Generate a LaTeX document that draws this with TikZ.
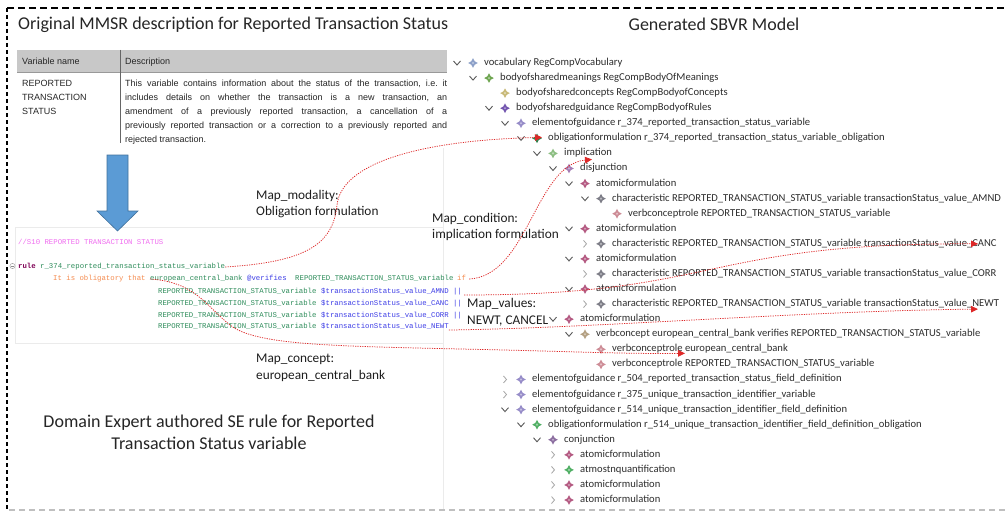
\documentclass[tikz,border=0pt]{standalone}
\usepackage{fontspec}
\setmainfont{Carlito}
\newfontfamily\arialf{Liberation Sans}
\newfontfamily\monof{Liberation Mono}
\usetikzlibrary{arrows.meta,calc}
\definecolor{mapred}{RGB}{222,40,40}
\definecolor{treec}{RGB}{45,45,45}
\definecolor{labelc}{RGB}{30,30,30}
\definecolor{hdr}{RGB}{200,200,200}
\definecolor{blueA}{RGB}{91,155,213}
\definecolor{blueB}{RGB}{65,113,156}
\definecolor{cmtc}{RGB}{240,110,240}
\definecolor{kwc}{RGB}{127,0,85}
\definecolor{idc}{RGB}{45,140,90}
\definecolor{orc}{RGB}{245,140,80}
\definecolor{blc}{RGB}{60,60,230}
\definecolor{ivoc}{RGB}{140,160,200}
\definecolor{imean}{RGB}{110,165,80}
\definecolor{iconc}{RGB}{200,185,120}
\definecolor{iguid}{RGB}{115,85,175}
\definecolor{ielem}{RGB}{150,140,200}
\definecolor{iobl}{RGB}{50,130,80}
\definecolor{iimp}{RGB}{140,190,130}
\definecolor{idis}{RGB}{165,125,180}
\definecolor{iatom}{RGB}{180,90,130}
\definecolor{ichar}{RGB}{125,125,135}
\definecolor{irole}{RGB}{205,140,150}
\definecolor{ivc}{RGB}{180,160,130}
\definecolor{iatm}{RGB}{80,175,100}
\definecolor{iconj}{RGB}{140,110,160}
\tikzset{
  treetext/.style={anchor=west, inner sep=0pt, text height=7pt, text depth=2pt, text=treec, font=\fontsize{10.6}{12}\selectfont},
  codetxt/.style={anchor=west, inner sep=0pt, text height=5pt, text depth=1.5pt, font=\monof\fontsize{7.33}{9}\selectfont},
  tabtxt/.style={anchor=west, inner sep=0pt, text height=6.5pt, text depth=2pt, text=black!85, font=\arialf\fontsize{9}{11}\selectfont},
  maplabel/.style={anchor=west, inner sep=0pt, align=left, text=labelc, font=\fontsize{13.3}{16.5}\selectfont},
  titletxt/.style={inner sep=0pt, text=black!85, font=\fontsize{18}{21.5}\selectfont},
  mapline/.style={draw=mapred, line width=0.75pt, dash pattern=on 1.2pt off 1.2pt, -{Triangle[length=7pt,width=6.5pt,fill=mapred]}},
  chevd/.style={draw=black!65, line width=0.9pt},
  chevr/.style={draw=black!35, line width=0.8pt},
}
\newcommand\trow[6]{%
  \pgfmathsetmacro\tyv{63+15.07*#2}%
  \pgfmathsetmacro\txv{484+16*#3}%
  \node[treetext] (#1) at (\txv,\tyv) {#6};
  \fill[#5] (\txv-11,\tyv-4.8) -- (\txv-9.3,\tyv-1.7) -- (\txv-6.2,\tyv) -- (\txv-9.3,\tyv+1.7) -- (\txv-11,\tyv+4.8) -- (\txv-12.7,\tyv+1.7) -- (\txv-15.8,\tyv) -- (\txv-12.7,\tyv-1.7) -- cycle;
  \fill[white, opacity=0.45] (\txv-11,\tyv-1.2) -- (\txv-9.8,\tyv) -- (\txv-11,\tyv+1.2) -- (\txv-12.2,\tyv) -- cycle;
  \if d#4\draw[chevd] (\txv-30.5,\tyv-2) -- (\txv-27,\tyv+2) -- (\txv-23.5,\tyv-2);\fi
  \if r#4\draw[chevr] (\txv-28.5,\tyv-3.5) -- (\txv-25.5,\tyv) -- (\txv-28.5,\tyv+3.5);\fi
}
\frenchspacing
\begin{document}
\begin{tikzpicture}[x=1pt,y=-1pt]
\useasboundingbox (0,0) rectangle (1006,511);
\fill[white] (0,0) rectangle (1006,511);
% frame
\draw[black, line width=1.5pt, dash pattern=on 7pt off 4pt] (7,8) -- (1006,8);
\draw[black, line width=2pt, dash pattern=on 4pt off 3pt] (7,8) -- (7,509);
\draw[black!25, line width=1.2pt, dash pattern=on 6pt off 4pt] (9,510) -- (1006,510);
% faint panel lines
\draw[black!8, line width=0.6pt] (443,148) -- (443,509);
\draw[black!8, line width=0.6pt] (15,227) rectangle (443,343);
% titles
\node[titletxt, anchor=west] (ttl1) at (18,25) {Original MMSR description for Reported Transaction Status};
\node[titletxt] (ttl2) at (714,24) {Generated SBVR Model};
% table
\fill[hdr] (17,50) rectangle (447,72);
\draw[black!40, line width=0.8pt] (17,72) -- (447,72);
\draw[black!60, line width=1pt] (120,50) -- (120,143);
\node[tabtxt] (h1) at (22,62) {Variable name};
\node[tabtxt] (h2) at (125,62) {Description};
\node[tabtxt] (v1) at (22,84) {REPORTED};
\node[tabtxt] (v2) at (22,98) {TRANSACTION};
\node[tabtxt] (v3) at (22,112) {STATUS};
\node[tabtxt] (d1) at (125,84) {\makebox[322pt][s]{This variable contains information about the status of the transaction, i.e. it}};
\node[tabtxt] (d2) at (125,98) {\makebox[322pt][s]{includes details on whether the transaction is a new transaction, an}};
\node[tabtxt] (d3) at (125,112) {\makebox[322pt][s]{amendment of a previously reported transaction, a cancellation of a}};
\node[tabtxt] (d4) at (125,126) {\makebox[322pt][s]{previously reported transaction or a correction to a previously reported and}};
\node[tabtxt] (d5) at (125,140) {rejected transaction.};
% blue arrow
\draw[blueB, fill=blueA, line width=0.6pt] (107,155) -- (128,155) -- (128,211) -- (138,211) -- (117.5,231) -- (97,211) -- (107,211) -- cycle;
% code
\node[codetxt, text=cmtc] (cmt) at (18,243) {//S10 REPORTED TRANSACTION STATUS};
\draw[black!35, line width=0.5pt] (12.5,266) circle (2.6);
\draw[black!45, line width=0.6pt] (11,266) -- (14,266);
\node[codetxt] (rl) at (18,267) {\textcolor{kwc}{\bfseries rule} \textcolor{idc}{r\_374\_reported\_transaction\_status\_variable}};
\node[codetxt, text=orc] (obl) at (53,279) {It is obligatory that};
\node[codetxt, text=idc] (ecb) at (150,279) {european\_central\_bank};
\node[codetxt, text=blc] (ver) at (247,279) {@verifies};
\node[codetxt, text=idc] (rv0) at (295,279) {REPORTED\_TRANSACTION\_STATUS\_variable};
\node[codetxt, text=orc] (kwif) at (457,279) {if};
\node[codetxt, text=idc] (rv1) at (158,292) {REPORTED\_TRANSACTION\_STATUS\_variable};
\node[codetxt, text=blc] (am) at (321,292) {\$transactionStatus\_value\_AMND};
\node[codetxt, text=blc] (or1) at (453,292) {||};
\node[codetxt, text=idc] (rv2) at (158,304) {REPORTED\_TRANSACTION\_STATUS\_variable};
\node[codetxt, text=blc] (cn) at (321,304) {\$transactionStatus\_value\_CANC};
\node[codetxt, text=blc] (or2) at (453,304) {||};
\node[codetxt, text=idc] (rv3) at (158,316) {REPORTED\_TRANSACTION\_STATUS\_variable};
\node[codetxt, text=blc] (co) at (321,316) {\$transactionStatus\_value\_CORR};
\node[codetxt, text=blc] (or3) at (453,316) {||};
\node[codetxt, text=idc] (rv4) at (158,327) {REPORTED\_TRANSACTION\_STATUS\_variable};
\node[codetxt, text=blc] (nw) at (321,327) {\$transactionStatus\_value\_NEWT};
% bottom caption
\node[titletxt, align=center] (cap) at (209,432.5) {Domain Expert authored SE rule for Reported\\Transaction Status variable};
% tree
\trow{t0}{0}{0}{d}{ivoc}{vocabulary RegCompVocabulary}
\trow{t1}{1}{1}{d}{imean}{bodyofsharedmeanings RegCompBodyOfMeanings}
\trow{t2}{2}{2}{n}{iconc}{bodyofsharedconcepts RegCompBodyofConcepts}
\trow{t3}{3}{2}{d}{iguid}{bodyofsharedguidance RegCompBodyofRules}
\trow{t4}{4}{3}{d}{ielem}{elementofguidance r\_374\_reported\_transaction\_status\_variable}
\trow{t5}{5}{4}{d}{iobl}{obligationformulation r\_374\_reported\_transaction\_status\_variable\_obligation}
\trow{t6}{6}{5}{d}{iimp}{implication}
\trow{t7}{7}{6}{d}{idis}{disjunction}
\trow{t8}{8}{7}{d}{iatom}{atomicformulation}
\trow{t9}{9}{8}{d}{ichar}{characteristic REPORTED\_TRANSACTION\_STATUS\_variable transactionStatus\_value\_AMND}
\trow{t10}{10}{9}{n}{irole}{verbconceptrole REPORTED\_TRANSACTION\_STATUS\_variable}
\trow{t11}{11}{7}{d}{iatom}{atomicformulation}
\trow{t12}{12}{8}{r}{ichar}{characteristic REPORTED\_TRANSACTION\_STATUS\_variable transactionStatus\_value\_CANC}
\trow{t13}{13}{7}{d}{iatom}{atomicformulation}
\trow{t14}{14}{8}{r}{ichar}{characteristic REPORTED\_TRANSACTION\_STATUS\_variable transactionStatus\_value\_CORR}
\trow{t15}{15}{7}{d}{iatom}{atomicformulation}
\trow{t16}{16}{8}{r}{ichar}{characteristic REPORTED\_TRANSACTION\_STATUS\_variable transactionStatus\_value\_NEWT}
\trow{t17}{17}{6}{d}{iatom}{atomicformulation}
\trow{t18}{18}{7}{d}{ivc}{verbconcept european\_central\_bank verifies REPORTED\_TRANSACTION\_STATUS\_variable}
\trow{t19}{19}{8}{n}{irole}{verbconceptrole european\_central\_bank}
\trow{t20}{20}{8}{n}{irole}{verbconceptrole REPORTED\_TRANSACTION\_STATUS\_variable}
\trow{t21}{21}{3}{r}{ielem}{elementofguidance r\_504\_reported\_transaction\_status\_field\_definition}
\trow{t22}{22}{3}{r}{ielem}{elementofguidance r\_375\_unique\_transaction\_identifier\_variable}
\trow{t23}{23}{3}{d}{ielem}{elementofguidance r\_514\_unique\_transaction\_identifier\_field\_definition}
\trow{t24}{24}{4}{d}{iatm}{obligationformulation r\_514\_unique\_transaction\_identifier\_field\_definition\_obligation}
\trow{t25}{25}{5}{d}{iconj}{conjunction}
\trow{t26}{26}{6}{r}{iatom}{atomicformulation}
\trow{t27}{27}{6}{r}{iatm}{atmostnquantification}
\trow{t28}{28}{6}{r}{iatom}{atomicformulation}
\trow{t29}{29}{6}{r}{iatom}{atomicformulation}
% map labels
\node[maplabel] (lmod) at (256,204) {Map\_modality:\\Obligation formulation};
\node[maplabel] (lcond) at (432,227) {Map\_condition:\\implication formulation};
\node[maplabel] (lval) at (467,312) {Map\_values:\\NEWT, CANCEL};
\node[maplabel] (lcon) at (256,368) {Map\_concept:\\european\_central\_bank};
% mapping connectors
\draw[mapline] (rl.east) .. controls (305,262) and (333,245) .. (337,205) .. controls (342,160) and (430,140) .. ($(t5.west)+(-6,-1)$);
\draw[mapline] ($(kwif.east)+(3,0)$) .. controls (528,276) and (535,165) .. ($(t6.west)+(28,6)$);
\draw[mapline] ($(or1.east)+(2,3)$) .. controls (720,295) and (700,243) .. ($(t12.west)+(366,0)$);
\draw[mapline] ($(nw.east)+(0,3)$) .. controls (600,328) and (800,311) .. ($(t16.west)+(366,5)$);
\draw[mapline] (ecb.west) .. controls (195,282) and (205,305) .. (230,325) .. controls (255,345) and (330,346) .. (460,349) .. controls (560,351) and (620,354) .. ($(t19.west)+(73,4)$);
\end{tikzpicture}
\end{document}
